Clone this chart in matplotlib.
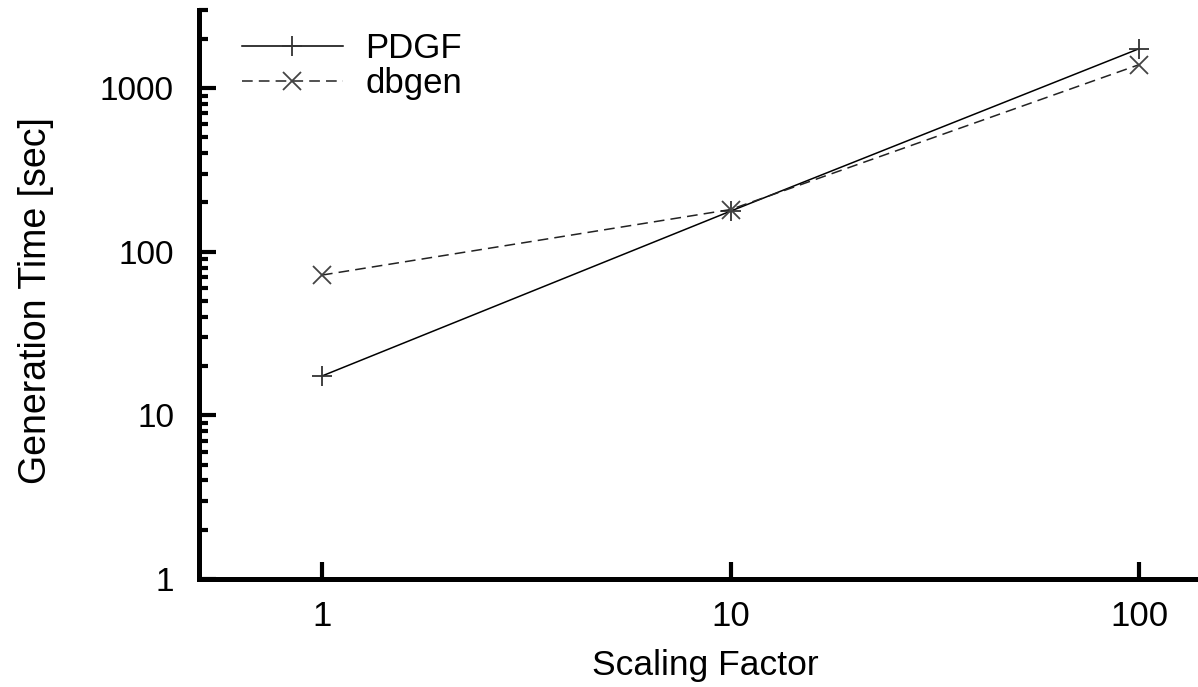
import matplotlib
matplotlib.use('Agg')
import matplotlib.pyplot as plt
from matplotlib.ticker import FixedLocator, NullLocator, FixedFormatter

plt.rcParams['font.family'] = ['Liberation Sans', 'DejaVu Sans']

scale = [1, 10, 100]
pdgf = [17.4, 177, 1740]
dbgen = [72, 181, 1390]

xticks = [1, 10, 100]
yticks = [1, 10, 100, 1000]
yminor = [m * 10 ** e for e in range(0, 4) for m in range(2, 10) if m * 10 ** e <= 3000]

fig = plt.figure(figsize=(11.98, 6.87), dpi=100)
ax = fig.add_axes([199 / 1198, 1 - 579 / 687, (1211 - 199) / 1198, (579 - 10) / 687])

ax.plot(scale, pdgf, '-', color='black', lw=1.1, marker='+', markersize=15,
        markeredgewidth=1.3, markeredgecolor='#333333', label='PDGF')
ax.plot(scale, dbgen, '--', color='#222222', lw=1.1, dashes=(7, 4), marker='x', markersize=13,
        markeredgewidth=1.3, markeredgecolor='#444444', label='dbgen')

ax.set_xscale('log')
ax.set_yscale('log')
ax.set_xlim(0.5, 150)
ax.set_ylim(1, 3000)

ax.xaxis.set_major_locator(FixedLocator(xticks))
ax.xaxis.set_major_formatter(FixedFormatter([str(t) for t in xticks]))
ax.xaxis.set_minor_locator(NullLocator())
ax.yaxis.set_major_locator(FixedLocator(yticks))
ax.yaxis.set_major_formatter(FixedFormatter([str(t) for t in yticks]))
ax.yaxis.set_minor_locator(FixedLocator(yminor))

for s in ['top', 'right']:
    ax.spines[s].set_visible(False)
for s in ['left', 'bottom']:
    ax.spines[s].set_linewidth(3.6)
ax.spines['bottom'].set_capstyle('projecting')

ax.tick_params(which='major', direction='in', length=12, width=3, pad=18)
ax.tick_params(which='minor', direction='in', length=6.5, width=3)
ax.tick_params(axis='y', which='major', labelsize=24)
ax.tick_params(axis='x', which='major', labelsize=25, pad=15)

ax.set_xlabel('Scaling Factor', fontsize=25.5, labelpad=12)
ax.set_ylabel('Generation Time [sec]', fontsize=27)
ax.yaxis.set_label_coords(-0.143, 0.489)

ax.legend(loc='upper left', bbox_to_anchor=(242 / 1198, 1 - 32 / 687), bbox_transform=fig.transFigure,
          frameon=False, fontsize=25, handlelength=2.9, handletextpad=0.65, labelspacing=0.05,
          borderpad=0, borderaxespad=0)

fig.savefig('out.png', dpi=100)
